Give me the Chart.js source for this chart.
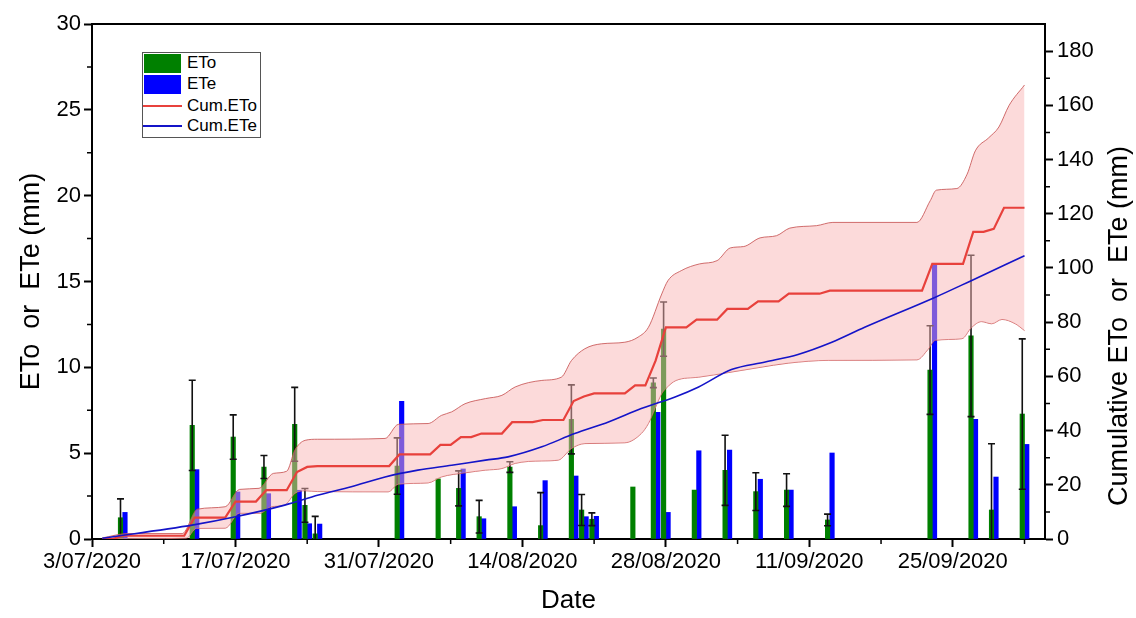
<!DOCTYPE html>
<html>
<head>
<meta charset="utf-8">
<script src="https://cdn.jsdelivr.net/npm/chart.js@4.4.1/dist/chart.umd.min.js"></script>
<style>
html,body{margin:0;padding:0;background:#fff;}
#wrap{position:relative;width:1136px;height:618px;overflow:hidden;}
canvas{position:absolute;left:0;top:0;}
.lg{position:absolute;font-family:'Liberation Sans',Arial,sans-serif;font-size:17px;line-height:20px;color:#000;white-space:nowrap;}
</style>
</head>
<body>
<div id="wrap">
<canvas id="c" width="1136" height="618"></canvas>
<div id="legend"></div>
</div>
<script>
// ---- data (x = days since 3/07/2020) ----
const barDays   = [3,10,14,17,20,21,22,30,34,36,38,41,44,47,48,49,53,55,56,59,62,65,68,72,82,86,88,91];
const etoDaily  = [1.24,6.62,5.94,4.19,6.68,1.96,0.30,4.25,3.50,2.95,1.30,4.19,0.78,6.97,1.69,1.15,3.03,9.10,12.23,2.85,4.00,2.76,2.85,1.11,9.84,11.83,1.69,7.28];
const eteDaily  = [1.55,4.04,2.74,2.64,2.84,0.89,0.87,8.02,null,4.08,1.18,1.88,3.40,3.67,1.30,1.32,null,7.38,1.55,5.14,5.18,3.48,2.85,5.01,16.06,6.97,3.61,5.51];
const etoSD     = [1.10,2.63,1.29,0.67,2.15,0.98,1.02,1.64,0,1.02,0.95,0.31,1.92,2.01,0.90,0.37,0,0.28,1.58,0,2.04,1.10,0.95,0.34,2.58,4.70,3.86,4.38];

const cumEToDays   = [1,2,3,9,10,13,14,16,17,19,20,21,22,29,30,33,34,35,36,37,38,40,41,43,44,46,47,48,49,52,53,54,55,56,58,59,61,62,64,65,67,68,71,72,81,82,85,86,87,88,89,91];
const cumEToValues = [0,0,1.2,1.2,7.9,7.9,13.8,13.8,18.0,18.0,24.7,26.6,26.9,26.9,31.2,31.2,34.7,34.7,37.6,37.6,38.9,38.9,43.1,43.1,43.9,43.9,50.9,52.6,53.7,53.7,56.7,56.7,65.8,78.1,78.1,80.9,80.9,84.9,84.9,87.7,87.7,90.5,90.5,91.6,91.6,101.5,101.5,113.3,113.3,114.4,122.2,122.2];

const upperDays   = [1,3.5,8.8,10.3,13,14.4,16.3,17.7,19,19.8,20.8,22,28.6,29.9,32.8,34.1,35.1,36.4,38.4,40,41.3,43.9,45.8,46.8,48.1,49.7,52,53.3,54.3,55.6,56.2,57.5,59.3,61,62.3,63.6,65.2,66.8,68.1,70.7,72.3,80.5,81.8,82.4,84.4,85.4,86.2,87.5,88.5,89.5,91];
const upperValues = [0.4,2.0,2.0,11.0,11.9,18.3,18.7,24.2,25.0,32.8,36.4,36.8,37.1,42.3,42.6,45.6,46.9,49.9,51.8,53.0,56.1,58.5,59.7,65.9,70.2,72.0,72.6,74.5,78.1,90.4,95.3,99.0,101.5,102.7,107.4,107.9,111.1,111.9,114.7,115.6,116.8,116.8,124.8,128.7,129.3,134.6,143.2,148.0,152.0,160.0,167.5];

const lowerDays   = [1,9.2,10.2,13,14.4,16.4,17.5,18.8,19.8,20.8,22,28.9,29.9,32.8,34.1,36.4,38.4,40,41.3,43.9,45.5,46.8,48.1,52,53.6,54.3,55.6,56,57,59.2,62.1,65,68,71.9,80.5,81.6,82.3,84.9,85.8,86.8,87.8,88.8,90.1,91];
const lowerValues = [0,0.3,3.9,4.0,9.5,9.5,11.9,12.5,16.8,17.8,17.5,17.4,20.2,20.7,22.9,24.4,25.4,26.0,27.9,28.8,29.1,33.4,35.2,35.5,38.9,42.6,53.6,55.5,58.5,59.7,61.4,63.2,64.9,65.9,66.1,70.0,73.3,73.9,77.9,80.2,79.4,81.0,79.4,76.9];

const cumETeDays   = [1,9.9,14,18.8,22.1,25.3,28.6,31.8,35.1,38.4,40.6,43.9,47.1,50.4,53.6,56.9,59.2,62.4,65.7,68.9,72.2,75.4,82.3,85.8,91];
const cumETeValues = [0.3,5.2,8.2,12.5,16.2,19.3,22.9,25.4,27.2,29.1,30.3,34.0,38.9,43.2,48.1,52.4,56.1,62.5,65.3,68.1,72.6,78.1,89.2,95.3,104.5];

const dateTickLabels = ['3/07/2020','17/07/2020','31/07/2020','14/08/2020','28/08/2020','11/09/2020','25/09/2020'];
const seriesNames = ['ETo','ETe','Cum.ETo','Cum.ETe'];

const pts = (xs, ys) => xs.map((x, i) => ({x: x, y: ys[i]}));
const FONT = "'Liberation Sans', Arial, sans-serif";
Chart.defaults.font.family = FONT;
Chart.defaults.color = '#000';

const GREEN = '#008000', BLUE = '#0000ff', RED = '#e8413c', BLUELINE = '#1414c8';
const BAND_FILL = 'rgba(249,181,181,0.5)', BAND_EDGE = 'rgba(200,85,85,0.85)';

const errorBars = {
  id: 'errorBars',
  afterDatasetDraw(chart, args) {
    if (args.index !== 0) return;
    const meta = chart.getDatasetMeta(0);
    const ys = chart.scales.y, ctx = chart.ctx, ca = chart.chartArea;
    ctx.save();
    ctx.beginPath(); ctx.rect(ca.left, ca.top, ca.right - ca.left, ca.bottom - ca.top); ctx.clip();
    ctx.strokeStyle = '#111'; ctx.lineWidth = 1.6;
    meta.data.forEach((bar, i) => {
      const e = etoSD[i]; if (!e) return;
      const v = etoDaily[i], x = bar.x;
      const yt = ys.getPixelForValue(v + e), yb = ys.getPixelForValue(v - e);
      ctx.beginPath();
      ctx.moveTo(x, yt); ctx.lineTo(x, yb);
      ctx.moveTo(x - 3.5, yt); ctx.lineTo(x + 3.5, yt);
      ctx.moveTo(x - 3.5, yb); ctx.lineTo(x + 3.5, yb);
      ctx.stroke();
    });
    ctx.restore();
  }
};

const decorations = {
  id: 'decorations',
  afterDraw(chart) {
    const ctx = chart.ctx, ca = chart.chartArea;
    const xs = chart.scales.x, ys = chart.scales.y, y2 = chart.scales.y2;
    ctx.save();
    ctx.strokeStyle = '#000';
    ctx.lineWidth = 2;
    ctx.beginPath(); ctx.moveTo(ca.left - 1, ca.top); ctx.lineTo(ca.right + 1, ca.top); ctx.stroke();
    ctx.lineWidth = 1.5;
    ctx.beginPath();
    for (let d = 7; d < xs.max; d += 14) { const p = xs.getPixelForValue(d); ctx.moveTo(p, ca.bottom); ctx.lineTo(p, ca.bottom + 5); }
    for (let v = 2.5; v < ys.max; v += 5) { const p = ys.getPixelForValue(v); ctx.moveTo(ca.left, p); ctx.lineTo(ca.left - 5, p); }
    for (let v = 10; v < y2.max; v += 20) { const p = y2.getPixelForValue(v); ctx.moveTo(ca.right, p); ctx.lineTo(ca.right + 5, p); }
    ctx.stroke();
    ctx.fillStyle = '#000';
    ctx.font = '27px ' + FONT;
    ctx.textAlign = 'center'; ctx.textBaseline = 'middle';
    ctx.translate(1120, 326);
    ctx.rotate(-Math.PI / 2);
    ctx.fillText('Cumulative ETo  or  ETe (mm)', 0, 0);
    ctx.restore();
  }
};

const axisGrid = {drawOnChartArea: false, tickLength: 8, tickColor: '#000', tickWidth: 2, offset: false};
const axisBorder = {color: '#000', width: 2};

new Chart(document.getElementById('c'), {
  type: 'bar',
  data: {
    datasets: [
      {label: seriesNames[0], data: pts(barDays, etoDaily), backgroundColor: GREEN, barThickness: 4.5, yAxisID: 'y', order: 5},
      {label: seriesNames[1], data: pts(barDays, eteDaily), backgroundColor: BLUE, barThickness: 4.5, yAxisID: 'y', order: 6},
      {type: 'line', label: 'upper', data: pts(upperDays, upperValues), borderColor: BAND_EDGE, borderWidth: 1, backgroundColor: BAND_FILL, fill: '+1', pointRadius: 0, cubicInterpolationMode: 'monotone', yAxisID: 'y2', order: 3},
      {type: 'line', label: 'lower', data: pts(lowerDays, lowerValues), borderColor: BAND_EDGE, borderWidth: 1, fill: false, pointRadius: 0, cubicInterpolationMode: 'monotone', yAxisID: 'y2', order: 4},
      {type: 'line', label: seriesNames[2], data: pts(cumEToDays, cumEToValues), borderColor: RED, borderWidth: 2.2, fill: false, pointRadius: 0, tension: 0, yAxisID: 'y2', order: 2},
      {type: 'line', label: seriesNames[3], data: pts(cumETeDays, cumETeValues), borderColor: BLUELINE, borderWidth: 1.6, fill: false, pointRadius: 0, cubicInterpolationMode: 'monotone', yAxisID: 'y2', order: 1}
    ]
  },
  options: {
    responsive: false,
    animation: false,
    devicePixelRatio: 1,
    events: [],
    layout: {padding: {top: 24, left: 0, right: 0, bottom: 0}},
    plugins: {legend: {display: false}, tooltip: {enabled: false}},
    scales: {
      x: {
        type: 'linear', position: 'bottom', min: 0, max: 93, offset: false,
        ticks: {stepSize: 14, includeBounds: false, autoSkip: false, maxRotation: 0, padding: 2,
                font: {size: 22}, color: '#000',
                callback: v => (dateTickLabels[v / 14] !== undefined ? dateTickLabels[v / 14] : '')},
        grid: axisGrid, border: axisBorder,
        title: {display: true, text: 'Date', font: {size: 26}, color: '#000', padding: {top: 0, bottom: 2}},
        afterFit: s => { s.height = 79; }
      },
      y: {
        type: 'linear', position: 'left', min: 0, max: 30,
        ticks: {stepSize: 5, padding: 3, font: {size: 22}, color: '#000'},
        grid: axisGrid, border: axisBorder,
        title: {display: true, text: 'ETo  or  ETe (mm)', font: {size: 27}, color: '#000', padding: {top: 15, bottom: 0}},
        afterFit: s => { s.width = 92; }
      },
      y2: {
        type: 'linear', position: 'right', min: 0, max: 190,
        ticks: {stepSize: 20, includeBounds: false, padding: 4, font: {size: 22}, color: '#000'},
        grid: axisGrid, border: axisBorder,
        afterFit: s => { s.width = 91; }
      }
    }
  },
  plugins: [errorBars, decorations]
});

(function () {
  const lg = document.getElementById('legend');
  const add = (css, cls, text) => { const d = document.createElement('div'); d.style.cssText = css; if (cls) d.className = cls; if (text) d.textContent = text; lg.appendChild(d); };
  add('position:absolute;left:142px;top:52px;width:117px;height:84px;border:1px solid #555;background:#fff;');
  add('position:absolute;left:144px;top:54px;width:37px;height:19px;background:' + GREEN);
  add('position:absolute;left:144px;top:75px;width:37px;height:19px;background:' + BLUE);
  add('position:absolute;left:143px;top:105px;width:39px;height:2px;background:' + RED);
  add('position:absolute;left:143px;top:125px;width:39px;height:2px;background:' + BLUELINE);
  const ys = [53, 74, 96, 116];
  seriesNames.forEach((n, i) => add('left:187px;top:' + ys[i] + 'px;', 'lg', n));
})();
</script>
</body>
</html>
